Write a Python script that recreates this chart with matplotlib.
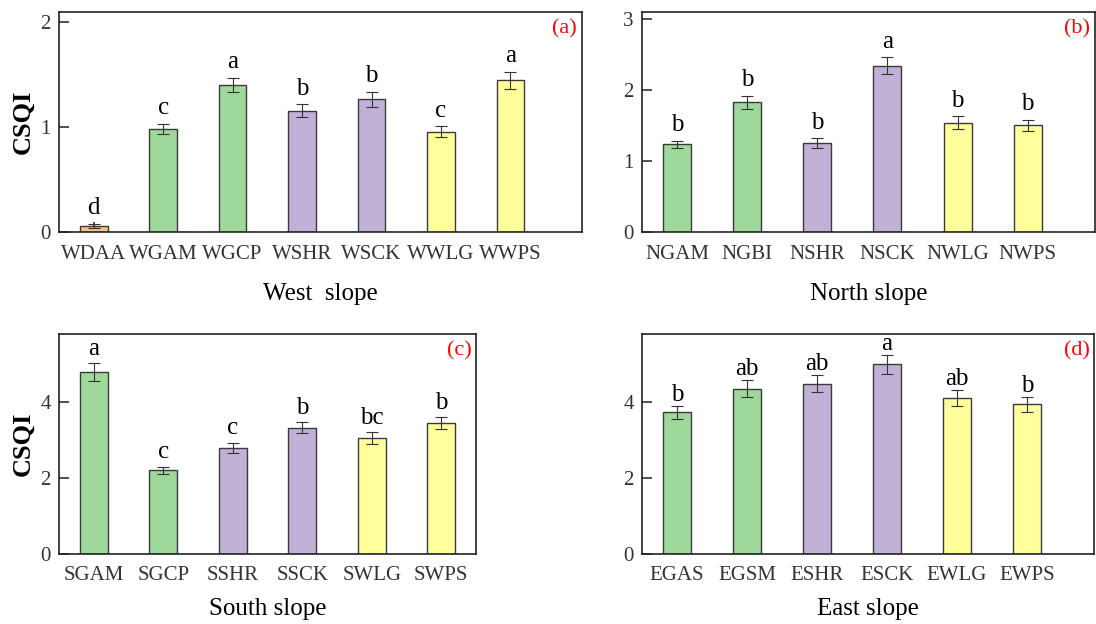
import numpy as np
import matplotlib
matplotlib.use("Agg")
import matplotlib.pyplot as plt

plt.rcParams['font.family'] = ['Liberation Serif', 'DejaVu Serif']

orange = '#F6C08F'
green = '#9ED89B'
purple = '#C1B1D6'
yellow = '#FFFF9C'

# (a) West slope
west_names = ['WDAA', 'WGAM', 'WGCP', 'WSHR', 'WSCK', 'WWLG', 'WWPS']
west_vals = [0.06, 0.98, 1.40, 1.155, 1.265, 0.955, 1.445]
west_err = [0.02, 0.05, 0.07, 0.06, 0.07, 0.05, 0.08]
west_sig = ['d', 'c', 'a', 'b', 'b', 'c', 'a']
west_col = [orange, green, green, purple, purple, yellow, yellow]

# (b) North slope
north_names = ['NGAM', 'NGBI', 'NSHR', 'NSCK', 'NWLG', 'NWPS']
north_vals = [1.233, 1.83, 1.25, 2.34, 1.54, 1.505]
north_err = [0.05, 0.09, 0.07, 0.12, 0.09, 0.08]
north_sig = ['b', 'b', 'b', 'a', 'b', 'b']

# (c) South slope
south_names = ['SGAM', 'SGCP', 'SSHR', 'SSCK', 'SWLG', 'SWPS']
south_vals = [4.79, 2.20, 2.80, 3.33, 3.05, 3.44]
south_err = [0.24, 0.10, 0.13, 0.15, 0.15, 0.16]
south_sig = ['a', 'c', 'c', 'b', 'bc', 'b']

# (d) East slope
east_names = ['EGAS', 'EGSM', 'ESHR', 'ESCK', 'EWLG', 'EWPS']
east_vals = [3.73, 4.36, 4.49, 5.00, 4.11, 3.94]
east_err = [0.18, 0.22, 0.22, 0.25, 0.21, 0.19]
east_sig = ['b', 'ab', 'ab', 'a', 'ab', 'b']

six_col = [green, green, purple, purple, yellow, yellow]

fig = plt.figure(figsize=(10.96, 6.24), dpi=100)

panels = [
    # rect, names, vals, err, sig, colors, xlabel, ylim, yticks, xmax, tag, ylabel, gap, labelpad
    ([0.0538, 0.6282, 0.4772, 0.3526], west_names, west_vals, west_err, west_sig,
     west_col, 'West  slope', 2.095, [0, 1, 2], 7.03, '(a)', True, 7, 14),
    ([0.5858, 0.6282, 0.4133, 0.3526], north_names, north_vals, north_err, north_sig,
     six_col, 'North slope', 3.1, [0, 1, 2, 3], 5.96, '(b)', False, 7, 14),
    ([0.0538, 0.1127, 0.3805, 0.3521], south_names, south_vals, south_err, south_sig,
     six_col, 'South slope', 5.8, [0, 2, 4], 5.5, '(c)', True, 6, 9),
    ([0.5858, 0.1127, 0.4124, 0.3521], east_names, east_vals, east_err, east_sig,
     six_col, 'East slope', 5.8, [0, 2, 4], 5.96, '(d)', False, 3.5, 9),
]

for rect, names, vals, err, sig, cols, xlab, ytop, yt, xmax, tag, ylab, gap, lpad in panels:
    ax = fig.add_axes(rect)
    x = np.arange(len(names))
    ax.bar(x, vals, 0.4, color=cols, edgecolor='#3a3a3a', linewidth=1.0, zorder=2)
    ax.errorbar(x, vals, yerr=err, fmt='none', ecolor='#333333', elinewidth=0.8,
                capsize=4, capthick=0.8, zorder=3)
    for xi, v, e, s in zip(x, vals, err, sig):
        ax.annotate(s, (xi, v + e), xytext=(0, gap), textcoords='offset points',
                    ha='center', va='baseline', fontsize=18)
    ax.set_xlim(-0.5, xmax)
    ax.set_ylim(0, ytop)
    ax.set_yticks(yt)
    ax.set_xticks(x)
    ax.set_xticklabels(names)
    ax.tick_params(direction='in', length=7, width=1.1, labelsize=15,
                   top=False, right=False, colors='#222222', labelcolor='#333333')
    ax.tick_params(axis='x', pad=9)
    ax.tick_params(axis='y', pad=6)
    for sp in ax.spines.values():
        sp.set_linewidth(1.2)
        sp.set_color('#222222')
    ax.set_xlabel(xlab, fontsize=18, labelpad=lpad)
    if ylab:
        ax.set_ylabel('CSQI', fontsize=19, fontweight='bold', labelpad=4)
    ax.text(0.99, 0.965, tag, transform=ax.transAxes, ha='right', va='top',
            fontsize=16, color='red')

fig.savefig('out.png', dpi=100)
